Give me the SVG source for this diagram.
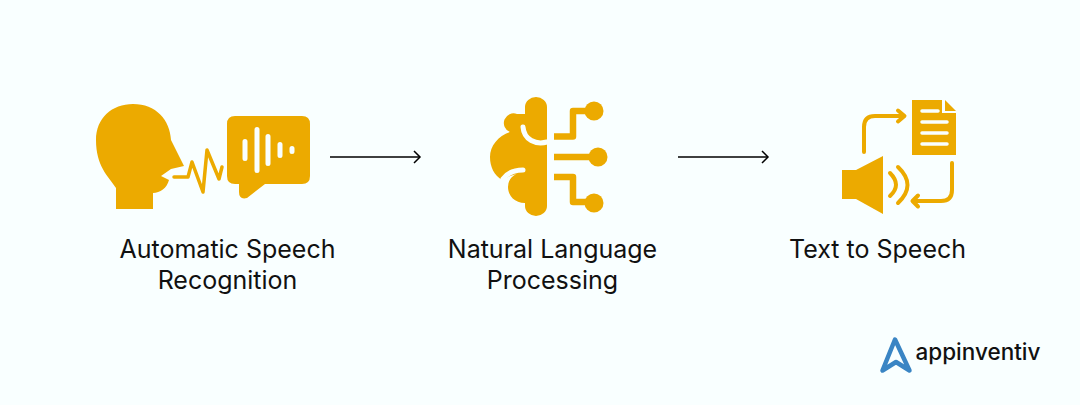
<svg xmlns="http://www.w3.org/2000/svg" width="1080" height="405" viewBox="0 0 1080 405">
<style>
.o{fill:#ecaa00}
.s{fill:none;stroke:#ecaa00;stroke-linecap:round;stroke-linejoin:round}
.w{fill:none;stroke:#f9ffff;stroke-linecap:round}
.l{font-family:Inter,"Noto Sans",sans-serif;font-size:25px;fill:#111;text-anchor:middle}
.c{fill:none;stroke:#000;stroke-width:1.5}
</style>
<defs><marker id="a" markerUnits="userSpaceOnUse" markerWidth="12" markerHeight="14" refX="9.500" refY="7" orient="auto"><path d="M3.500,1 L9.500,7 L3.500,13" fill="none" stroke="#000" stroke-width="1.500"/></marker></defs>
<rect width="1080" height="405" fill="#f9ffff"/>
<g id="connectors">
<path class="c" d="M330,157 H420" marker-end="url(#a)"/>
<path class="c" d="M678,157 H768" marker-end="url(#a)"/>
</g>
<g id="asr">
<path class="o" d="M116,209 V188 C108,176 96,166 96,140 C96,118 112,104 133,104 C156,104 170,120 171,140 L184,166 L171,169 L161,176 L169,180 C167,188 160,193 153,193 V209 Z"/>
<path class="s" stroke-width="3.500" d="M174,177 H188 L192,162 L203,192 L207,150 L219,179 L222,167"/>
<path class="o" d="M235,116 H302 Q310,116 310,124 V176 Q310,184 302,184 H265 L247,198 Q239,200 239,192 V184 H235 Q227,184 227,176 V124 Q227,116 235,116 Z"/>
<path class="w" stroke-width="5" d="M245,141.500 V158.500 M257,129.500 V170.500 M268,136.500 V163.500 M280,144.500 V155.500 M292,148.500 V151.500"/>
<text class="l" x="227.500" y="257.500">Automatic Speech</text>
<text class="l" x="227.500" y="288.500">Recognition</text>
</g>
<g id="nlp">
<path class="o" d="M547,107 A11,10 0 0 0 525,107 V114 H517 A9.500,9.500 0 0 0 510,132 C498,136 490,146 490,157 C490,167 494,175 502,180 L510,176 L523,172 Q508,175 508,187 C508,196 515,203 525,203 V206 A11,10 0 0 0 547,206 Z"/>
<path class="w" stroke-width="5" d="M523,127 C524,140 536,145 547,142"/>
<path class="w" stroke-width="5" d="M503,179 C508,172 516,170 523,170"/>
<path class="s" stroke-width="6.500" style="stroke-linecap:butt;stroke-linejoin:round" d="M554,136.500 H573 V111 H594 M554,157 H600 M554,177 H573 V202 H594"/>
<circle class="o" cx="594" cy="111" r="9.500"/><circle class="o" cx="598" cy="157" r="9.500"/><circle class="o" cx="594" cy="203" r="9.500"/>
<text class="l" x="552.500" y="257.500">Natural Language</text>
<text class="l" x="552.500" y="288.500">Processing</text>
</g>
<g id="tts">
<path class="o" d="M912,100 H942 V113 H956 V155 H912 Z"/>
<path class="o" d="M945,100 L956,111 H945 Z"/>
<path class="w" stroke-width="3.500" d="M922,111 H938 M922,122 H947 M922,133 H947 M922,144 H947"/>
<path class="o" d="M842,170 H856 L883,156 V214 L856,199 H842 Z"/>
<path class="s" stroke-width="4" d="M890,173 Q902,185 890,196 M898,167 Q917,185 898,203"/>
<path class="s" stroke-width="4" d="M864,152 V127 Q864,116 875,116 H904 M898,110.500 L904.500,116 L898,121.500"/>
<path class="s" stroke-width="4" d="M952,163 V190 Q952,201 941,201 H913 M918,195.500 L912.500,201 L918,206.500"/>
<text class="l" x="877.500" y="257.500">Text to Speech</text>
</g>
<g id="logo">
<path d="M882.500,370.500 L895,339.500 L909.500,370.500 L896,362 Z" fill="none" stroke="#3a85c4" stroke-width="4.500" stroke-linejoin="round"/>
<text x="915.500" y="360" font-family="Inter,sans-serif" font-size="22.500" font-weight="500" fill="#111">appinventiv</text>
</g>
</svg>
